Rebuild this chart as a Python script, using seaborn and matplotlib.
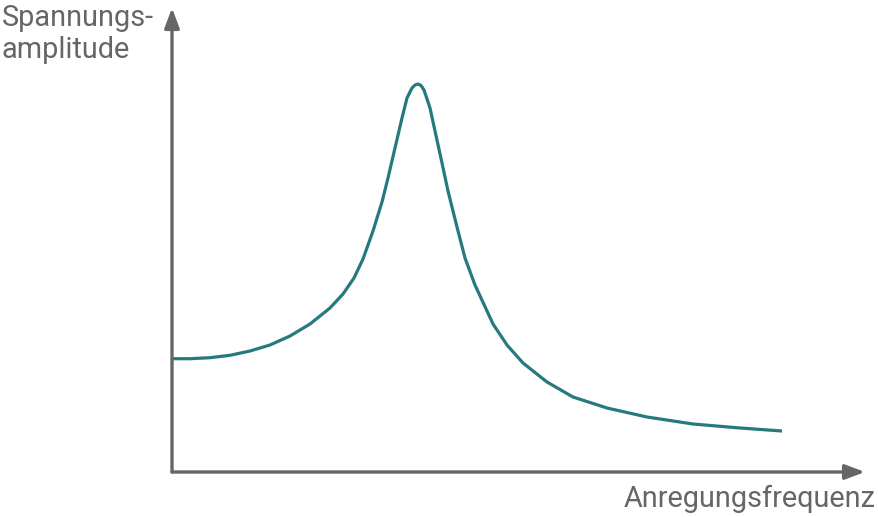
import matplotlib
matplotlib.use("Agg")
import matplotlib.pyplot as plt
import seaborn as sns
import pandas as pd

# Resonanzkurve (x: Anregungsfrequenz, y: Spannungsamplitude, willkuerliche Einheiten)
frequency = [0, 18, 38, 58, 78, 98, 118, 138, 158, 171, 182, 191, 201, 210, 216,
             223, 230, 235, 240, 243, 246, 249, 252, 258, 263, 270, 276, 285, 293,
             303, 315, 321, 335, 351, 375, 401, 435, 475, 521, 568, 610]
amplitude = [113.3, 113.3, 114.3, 116.7, 121, 127, 136, 148, 164, 178, 194, 213, 241,
             270, 294, 324, 354, 374, 384, 387, 388, 386.5, 382, 364, 341, 309, 281,
             245, 214, 187, 161, 148, 127, 109, 90, 75, 64, 55, 48, 44, 41]

x_label = "Anregungsfrequenz"
y_label = "Spannungs-\namplitude"

axis_color = "#666666"
curve_color = "#267a7e"

sns.set_style("white")
plt.rcParams["font.family"] = ["Roboto", "DejaVu Sans"]

fig = plt.figure(figsize=(8.79, 5.17), dpi=100)
ax = fig.add_axes([172 / 879, 45 / 517, (865 - 172) / 879, (472 - 8) / 517])

df = pd.DataFrame({"f": frequency, "a": amplitude})
sns.lineplot(data=df, x="f", y="a", ax=ax, color=curve_color, linewidth=2.3,
             sort=False, solid_joinstyle="round", solid_capstyle="butt")

ax.set_xlim(0, 693)
ax.set_ylim(0, 464)
ax.set_xticks([])
ax.set_yticks([])
ax.set_xlabel("")
ax.set_ylabel("")
sns.despine(ax=ax, left=True, bottom=True)

# Achsen mit Pfeilspitzen
arrow = dict(arrowstyle="-|>,head_length=1.2,head_width=0.45", color=axis_color,
             lw=2.4, shrinkA=0, shrinkB=0)
ax.annotate("", xy=(1, 0), xytext=(0, 0), xycoords="axes fraction",
            textcoords="axes fraction", arrowprops=arrow, annotation_clip=False)
ax.annotate("", xy=(0, 1), xytext=(0, 0), xycoords="axes fraction",
            textcoords="axes fraction", arrowprops=arrow, annotation_clip=False)

fig.text(2 / 879, 1 - 4 / 517, y_label, ha="left", va="top", fontsize=20.8,
         color=axis_color, linespacing=1.2)
fig.text(876 / 879, 1 - 507 / 517, x_label, ha="right", va="baseline", fontsize=20.8,
         color=axis_color)

fig.savefig("out.png", dpi=100, facecolor="white")
